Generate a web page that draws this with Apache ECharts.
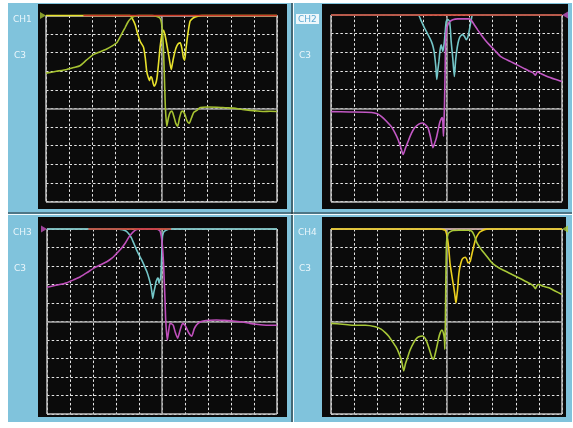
<!DOCTYPE html>
<html>
<head>
<meta charset="utf-8">
<script src="https://cdn.jsdelivr.net/npm/echarts@6/dist/echarts.min.js"></script>
<style>
html,body{margin:0;padding:0;background:#fff;}
#c{width:573px;height:428px;}
</style>
</head>
<body>
<div id="c"></div>
<script>
// ---- data (x in divisions 0..10, y in dB, 10 dB/div, 0 at top) ----
var channelLabels = ['CH1', 'CH2', 'CH3', 'CH4'];
var subLabel = 'C3';

var p1Refl = [[0,0],[3.64,0],[3.75,-2],[3.86,-5],[3.97,-10],[4.08,-14],[4.22,-17],[4.3,-23],[4.36,-30],[4.42,-33],[4.48,-35],[4.53,-33],[4.58,-33.5],[4.63,-36],[4.68,-38],[4.74,-37],[4.8,-34],[4.87,-26],[4.94,-17],[5.02,-10],[5.09,-8],[5.16,-11],[5.23,-15.6],[5.32,-22],[5.42,-29],[5.47,-26],[5.52,-22.8],[5.59,-19],[5.66,-16.5],[5.74,-15],[5.81,-14.7],[5.88,-17.5],[5.95,-22.8],[6.0,-24],[6.05,-19],[6.1,-13.8],[6.17,-7.5],[6.24,-3],[6.35,-1.5],[6.46,-0.8],[6.6,-0.2],[6.75,0],[10,0]];
var p1Trans = [[0,-31],[0.45,-30],[0.9,-29],[1.2,-28],[1.47,-27],[1.75,-24],[2.05,-21],[2.35,-19.5],[2.63,-18],[2.85,-16.5],[3.06,-14.7],[3.25,-10.5],[3.42,-6.6],[3.55,-3.5],[3.64,-2],[3.8,-0.5],[4.0,0],[4.6,0],[4.8,-0.5],[4.94,-1.5],[5.0,-4],[5.05,-10],[5.09,-20],[5.13,-35],[5.17,-50],[5.23,-59.5],[5.3,-55],[5.38,-52],[5.45,-51.4],[5.53,-54],[5.62,-58],[5.7,-59.5],[5.78,-55],[5.86,-51.8],[5.93,-51.4],[6.02,-53.5],[6.1,-56.5],[6.2,-58],[6.3,-55],[6.4,-52],[6.53,-51],[6.68,-49.5],[7.0,-49.2],[7.4,-49.3],[7.8,-49.6],[8.12,-49.8],[8.5,-50.5],[8.84,-51],[9.1,-51.3],[9.42,-51.6],[9.7,-51.5],[10,-51.6]];
var p1Ref = [[1.62,0],[10,0]];
var p1Marker = [[0,0]];

var p2Refl = [[0,0],[3.77,0],[3.9,-3],[4.05,-7],[4.2,-10.5],[4.34,-14],[4.42,-17],[4.48,-21],[4.54,-28],[4.58,-34.5],[4.63,-29],[4.67,-25],[4.72,-19],[4.77,-16],[4.81,-18],[4.84,-19.5],[4.88,-17],[4.91,-14],[4.95,-8],[4.99,-3.4],[5.06,-2.5],[5.13,-3.4],[5.17,-8],[5.2,-14],[5.27,-23],[5.34,-33],[5.39,-25],[5.44,-19.5],[5.5,-15],[5.56,-12.3],[5.63,-11],[5.7,-10.5],[5.78,-11.5],[5.85,-13.2],[5.92,-12],[5.96,-10],[6.03,-5.2],[6.08,-2],[6.13,0],[10,0]];
var p2Trans = [[0,-51.8],[0.8,-52],[1.76,-52.3],[2.0,-53],[2.19,-54.5],[2.4,-57],[2.62,-60],[2.78,-63.5],[2.91,-67],[3.02,-71],[3.12,-74.8],[3.22,-71.5],[3.34,-67.7],[3.48,-63.5],[3.62,-60.5],[3.8,-58.5],[3.98,-57.9],[4.1,-59],[4.2,-60.5],[4.3,-65],[4.41,-71.2],[4.48,-69],[4.56,-66],[4.63,-62],[4.7,-58],[4.76,-56],[4.81,-55],[4.84,-57],[4.87,-65],[4.89,-58],[4.91,-50],[4.94,-30],[4.96,-14],[5.0,-8],[5.06,-5.2],[5.15,-3.5],[5.27,-2.5],[5.49,-2.1],[5.99,-2.1],[6.08,-3],[6.2,-5.2],[6.35,-8],[6.49,-10.5],[6.68,-13.5],[6.85,-15.9],[7.13,-19.5],[7.35,-22.3],[7.78,-25],[8.1,-27],[8.35,-28.6],[8.6,-30.2],[8.75,-31],[8.85,-32.3],[8.93,-30.4],[9.1,-31.5],[9.36,-33],[9.7,-34.5],[10,-35.7]];
var p2Ref = [[0,0],[10,0]];
var p2Marker = [[10,0]];

var p3Refl = [[0,0],[3.1,0],[3.18,-0.2],[3.32,-0.6],[3.47,-1.4],[3.58,-3],[3.68,-5],[3.8,-8.5],[3.9,-11.4],[4.0,-14],[4.12,-16.8],[4.22,-19.5],[4.34,-23],[4.43,-26.5],[4.51,-30.3],[4.56,-34],[4.6,-37.5],[4.65,-34],[4.7,-31.2],[4.74,-28.5],[4.77,-27.6],[4.81,-26.5],[4.84,-26.7],[4.87,-29.4],[4.9,-28],[4.94,-26.7],[4.97,-20],[4.99,-13.2],[5.02,-4.1],[5.06,-2],[5.09,-1.4],[5.2,-0.5],[5.35,0],[10,0]];
var p3Trans = [[0,-31.5],[0.45,-30.3],[0.87,-29],[1.15,-27.5],[1.45,-25.8],[1.75,-23.5],[2.02,-21.3],[2.3,-19.5],[2.6,-17.7],[2.82,-15.8],[3.03,-13.2],[3.2,-11],[3.4,-7.7],[3.58,-4],[3.76,-1.4],[3.9,-0.3],[4.05,0],[4.77,0],[4.91,-1],[4.97,-4],[5.02,-9.5],[5.06,-17],[5.09,-25.8],[5.13,-38],[5.16,-49],[5.23,-60],[5.29,-55],[5.35,-51],[5.42,-51.3],[5.49,-52],[5.58,-56],[5.68,-59],[5.78,-55],[5.9,-51],[6.0,-52],[6.07,-53.7],[6.18,-56.5],[6.29,-58],[6.4,-54],[6.5,-51.9],[6.65,-50.3],[6.79,-49.7],[7.1,-49.3],[7.37,-49.2],[7.7,-49.4],[8.09,-49.7],[8.5,-50.3],[8.82,-51],[9.1,-51.5],[9.39,-51.9],[9.7,-52],[10,-52]];
var p3Ref = [[1.8,0],[5.4,0]];
var p3Marker = [[0,0]];

var p4Refl = [[0,0],[4.75,0],[4.85,-0.3],[4.94,-0.7],[5.0,-2.5],[5.05,-5.7],[5.1,-11],[5.15,-18.3],[5.21,-23.5],[5.27,-28.2],[5.32,-32],[5.35,-34.5],[5.38,-37.5],[5.41,-39.9],[5.44,-37],[5.48,-32.7],[5.52,-26],[5.56,-21.9],[5.62,-18.5],[5.67,-16.5],[5.75,-15.5],[5.82,-15.3],[5.88,-16.5],[5.93,-18.3],[5.98,-18],[6.03,-17.4],[6.1,-13.5],[6.18,-9.3],[6.25,-6],[6.32,-3.9],[6.43,-1.8],[6.54,-0.9],[6.68,-0.2],[6.8,0],[10,0]];
var p4Trans = [[0,-51],[0.5,-51.5],[0.91,-52],[1.49,-52],[1.92,-52.8],[2.15,-54],[2.35,-56],[2.5,-58],[2.64,-60.5],[2.8,-63.5],[2.93,-66.8],[3.05,-71],[3.15,-76.7],[3.22,-73],[3.29,-70.4],[3.42,-65.5],[3.58,-61.4],[3.7,-59.2],[3.8,-58.2],[3.97,-57.8],[4.07,-59],[4.16,-61.4],[4.27,-65.5],[4.37,-69.5],[4.44,-70.4],[4.52,-67],[4.59,-63.2],[4.66,-59],[4.73,-56],[4.8,-54.6],[4.86,-56],[4.91,-59.6],[4.93,-65],[4.95,-50],[4.97,-30],[5.0,-7.5],[5.05,-3.5],[5.09,-2.2],[5.24,-0.9],[5.53,-0.7],[5.96,-0.7],[6.1,-1.3],[6.2,-3.5],[6.32,-7.5],[6.5,-11],[6.68,-13.8],[6.97,-18.3],[7.2,-20.5],[7.4,-21.9],[7.84,-24.6],[8.1,-26.2],[8.41,-28.2],[8.65,-29.8],[8.77,-30.9],[8.85,-32.3],[8.92,-30.5],[9.0,-30],[9.2,-31],[9.43,-31.8],[9.7,-33.5],[10,-35.4]];
var p4Ref = [[0,0],[10,0]];
var p4Marker = [[10,0]];

// ---- layout / style ----
var grids = [
  {left:46, top:15.5, width:231, height:186},
  {left:331, top:15, width:231, height:186.5},
  {left:47, top:229, width:230, height:185},
  {left:331, top:229, width:231, height:185}
];
var panels = [
  {refl:p1Refl, trans:p1Trans, ref:p1Ref, marker:p1Marker, cRefl:'#e8e22c', cTrans:'#a6c232', mColor:'#a6c232', refOver:true},
  {refl:p2Refl, trans:p2Trans, ref:p2Ref, marker:p2Marker, cRefl:'#74c6c8', cTrans:'#c258c4', mColor:'#c258c4', refOver:true},
  {refl:p3Refl, trans:p3Trans, ref:p3Ref, marker:p3Marker, cRefl:'#74c6c8', cTrans:'#c050bc', mColor:'#c050bc', refOver:true},
  {refl:p4Refl, trans:p4Trans, ref:p4Ref, marker:p4Marker, cRefl:'#ecd01e', cTrans:'#a8c838', mColor:'#a8c838', refOver:false}
];

var xAxes = [], yAxes = [], series = [];
var gridLine = {show:true, lineStyle:{color:'#e6e6e6', width:1, type:[2.5,2.2]}};
grids.forEach(function(g, i){
  xAxes.push({type:'value', gridIndex:i, min:0, max:10, interval:1,
    axisLine:{show:false}, axisTick:{show:false}, axisLabel:{show:false}, splitLine:gridLine});
  yAxes.push({type:'value', gridIndex:i, min:-100, max:0, interval:10,
    axisLine:{show:false}, axisTick:{show:false}, axisLabel:{show:false}, splitLine:gridLine});
});

panels.forEach(function(p, i){
  // frame + center lines
  series.push({type:'line', xAxisIndex:i, yAxisIndex:i, data:[], silent:true, z:3,
    markLine:{silent:true, symbol:'none', label:{show:false}, animation:false,
      lineStyle:{color:'#c4c4c4', width:1.5, type:'solid'},
      data:[{xAxis:0},{xAxis:10},{yAxis:0},{yAxis:-100},
            {xAxis:5, lineStyle:{color:'#a8a8a8', width:1.5}},
            {yAxis:-50, lineStyle:{color:'#a8a8a8', width:1.5}}]}});
  series.push({type:'line', xAxisIndex:i, yAxisIndex:i, data:p.ref, symbol:'none', clip:false,
    z: p.refOver ? 7 : 4, lineStyle:{color:'#cc3a26', width:1.6}, animation:false});
  series.push({type:'line', xAxisIndex:i, yAxisIndex:i, data:p.refl, symbol:'none', clip:false,
    smooth:0.2, z:5, lineStyle:{color:p.cRefl, width:1.6}, animation:false});
  series.push({type:'line', xAxisIndex:i, yAxisIndex:i, data:p.trans, symbol:'none', clip:false,
    smooth:0.2, z:6, lineStyle:{color:p.cTrans, width:1.6}, animation:false});
  var left = p.marker[0][0] === 0;
  series.push({type:'scatter', xAxisIndex:i, yAxisIndex:i, data:p.marker, clip:false, z:8,
    symbol:'triangle', symbolSize:[7,6], symbolRotate: left ? -90 : 90,
    symbolOffset:[left ? -3 : 3, 0], itemStyle:{color:p.mColor}, animation:false});
});

var blue = '#80c3dc';
var txt = '#eaf6fb';
var font = '9px "DejaVu Sans", sans-serif';
var graphic = [
  {type:'rect', shape:{x:8, y:3, width:564, height:419}, style:{fill:blue}, z:-10, silent:true},
  {type:'rect', shape:{x:38, y:4, width:249, height:205}, style:{fill:'#0b0b0b'}, z:-9, silent:true},
  {type:'rect', shape:{x:322, y:4, width:246, height:205}, style:{fill:'#0b0b0b'}, z:-9, silent:true},
  {type:'rect', shape:{x:38, y:217, width:249, height:200}, style:{fill:'#0b0b0b'}, z:-9, silent:true},
  {type:'rect', shape:{x:322, y:217, width:244, height:200}, style:{fill:'#0b0b0b'}, z:-9, silent:true},
  {type:'line', shape:{x1:292, y1:3, x2:292, y2:422}, style:{stroke:'#1c2a30', lineWidth:1.2}, z:-8, silent:true},
  {type:'line', shape:{x1:293.5, y1:3, x2:293.5, y2:422}, style:{stroke:'#f4fbfd', lineWidth:1}, z:-8, silent:true},
  {type:'line', shape:{x1:8, y1:213, x2:572, y2:213}, style:{stroke:'#1c2a30', lineWidth:1.2}, z:-8, silent:true},
  {type:'line', shape:{x1:8, y1:214.5, x2:572, y2:214.5}, style:{stroke:'#f4fbfd', lineWidth:1}, z:-8, silent:true},
  {type:'rect', shape:{x:296, y:14, width:23, height:10}, style:{fill:'#eef7fb'}, z:-7, silent:true}
];
var labelPos = [[13,15],[298,15],[13,228],[298,228]];
labelPos.forEach(function(pt, i){
  graphic.push({type:'text', x:pt[0], y:pt[1], z:10, silent:true,
    style:{text:channelLabels[i], font:font, fill: i === 1 ? '#5aa9d2' : txt}});
  graphic.push({type:'text', x:pt[0]+1, y:pt[1]+36, z:10, silent:true,
    style:{text:subLabel, font:font, fill:txt}});
});

var chart = echarts.init(document.getElementById('c'), null, {renderer:'canvas'});
chart.setOption({
  backgroundColor:'#ffffff',
  animation:false,
  grid: grids,
  xAxis: xAxes,
  yAxis: yAxes,
  graphic: graphic,
  series: series
});
</script>
</body>
</html>
